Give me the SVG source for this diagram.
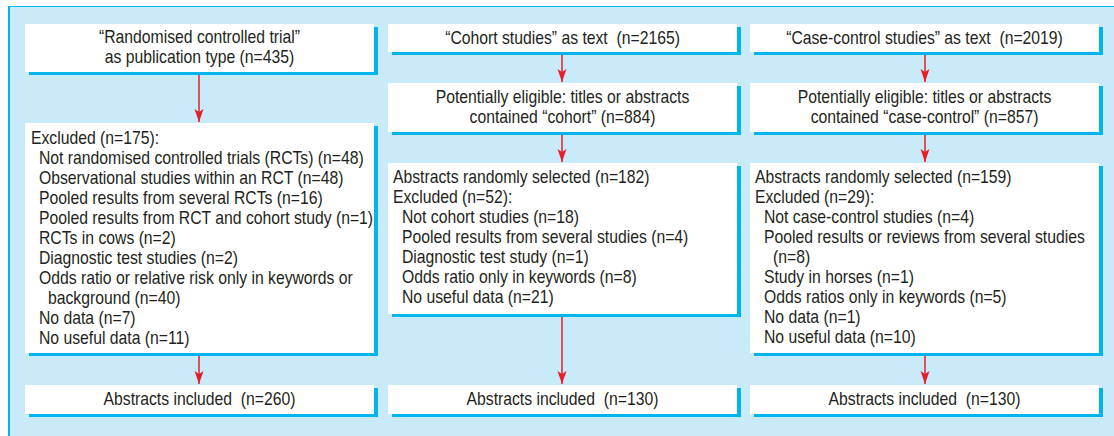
<svg xmlns="http://www.w3.org/2000/svg" width="1114" height="436" viewBox="0 0 1114 436">
<style>
text{font-family:"Liberation Sans",Arial,sans-serif;font-size:17.5px;fill:#231f20;white-space:pre}
.c{text-anchor:middle}
.box{fill:#ffffff}
.sh{fill:#00b5ec}
.arr{stroke:#e51f2a;stroke-width:1.5;fill:none;marker-end:url(#ah)}
</style>
<defs>
<marker id="ah" markerUnits="userSpaceOnUse" markerWidth="14" markerHeight="10" refX="13" refY="4.5" orient="auto" viewBox="0 0 14 9">
<path d="M0,0 L13,4.5 L0,9 L3,4.5 Z" fill="#e51f2a"/>
</marker>
</defs>
<rect x="0" y="0" width="1114" height="436" fill="#ffffff"/>
<rect x="8" y="6" width="1106" height="430" fill="#c8eaf9"/>
<line x1="8" y1="6.5" x2="1114" y2="6.5" stroke="#00b5ec" stroke-width="1"/>
<line x1="9" y1="6" x2="9" y2="436" stroke="#00b5ec" stroke-width="2"/>

<g id="connectors">
<line class="arr" x1="199" y1="72" x2="199" y2="122"/>
<line class="arr" x1="199" y1="353" x2="199" y2="384"/>
<line class="arr" x1="562" y1="52" x2="562" y2="82"/>
<line class="arr" x1="562" y1="132" x2="562" y2="162"/>
<line class="arr" x1="562" y1="314" x2="562" y2="384"/>
<line class="arr" x1="925" y1="52" x2="925" y2="82"/>
<line class="arr" x1="925" y1="132" x2="925" y2="162"/>
<line class="arr" x1="925" y1="353" x2="925" y2="384"/>
</g>

<g id="rct-source">
<rect class="sh" x="29" y="27" width="349" height="48"/>
<rect class="box" x="25" y="24" width="349" height="48"/>
<text class="c" transform="translate(199.5,43) scale(0.9,1)">“Randomised controlled trial”</text>
<text class="c" transform="translate(199.5,63) scale(0.9,1)">as publication type (n=435)</text>
</g>

<g id="rct-excluded">
<rect class="sh" x="29" y="126" width="349" height="230"/>
<rect class="box" x="25" y="123" width="349" height="230"/>
<text transform="translate(31,144) scale(0.9,1)">Excluded (n=175):</text>
<text transform="translate(39,164) scale(0.9,1)">Not randomised controlled trials (RCTs) (n=48)</text>
<text transform="translate(39,184) scale(0.9,1)">Observational studies within an RCT (n=48)</text>
<text transform="translate(39,204) scale(0.9,1)">Pooled results from several RCTs (n=16)</text>
<text transform="translate(39,224) scale(0.9,1)">Pooled results from RCT and cohort study (n=1)</text>
<text transform="translate(39,244) scale(0.9,1)">RCTs in cows (n=2)</text>
<text transform="translate(39,264) scale(0.9,1)">Diagnostic test studies (n=2)</text>
<text transform="translate(39,284) scale(0.9,1)">Odds ratio or relative risk only in keywords or</text>
<text transform="translate(48,304) scale(0.9,1)">background (n=40)</text>
<text transform="translate(39,324) scale(0.9,1)">No data (n=7)</text>
<text transform="translate(39,344) scale(0.9,1)">No useful data (n=11)</text>
</g>

<g id="rct-included">
<rect class="sh" x="29" y="388" width="349" height="29"/>
<rect class="box" x="25" y="385" width="349" height="29"/>
<text class="c" transform="translate(199.5,405) scale(0.9,1)">Abstracts included  (n=260)</text>
</g>

<g id="cohort-source">
<rect class="sh" x="392" y="27" width="349" height="28"/>
<rect class="box" x="388" y="24" width="349" height="28"/>
<text class="c" transform="translate(562.5,44) scale(0.9,1)">“Cohort studies” as text  (n=2165)</text>
</g>

<g id="cohort-eligible">
<rect class="sh" x="392" y="86" width="349" height="49"/>
<rect class="box" x="388" y="83" width="349" height="49"/>
<text class="c" transform="translate(562.5,103) scale(0.9,1)">Potentially eligible: titles or abstracts</text>
<text class="c" transform="translate(562.5,123) scale(0.9,1)">contained “cohort” (n=884)</text>
</g>

<g id="cohort-selected">
<rect class="sh" x="392" y="166" width="349" height="151"/>
<rect class="box" x="388" y="163" width="349" height="151"/>
<text transform="translate(393,183) scale(0.9,1)">Abstracts randomly selected (n=182)</text>
<text transform="translate(393,203) scale(0.9,1)">Excluded (n=52):</text>
<text transform="translate(402,223) scale(0.9,1)">Not cohort studies (n=18)</text>
<text transform="translate(402,243) scale(0.9,1)">Pooled results from several studies (n=4)</text>
<text transform="translate(402,263) scale(0.9,1)">Diagnostic test study (n=1)</text>
<text transform="translate(402,283) scale(0.9,1)">Odds ratio only in keywords (n=8)</text>
<text transform="translate(402,303) scale(0.9,1)">No useful data (n=21)</text>
</g>

<g id="cohort-included">
<rect class="sh" x="392" y="388" width="349" height="29"/>
<rect class="box" x="388" y="385" width="349" height="29"/>
<text class="c" transform="translate(562.5,405) scale(0.9,1)">Abstracts included  (n=130)</text>
</g>

<g id="cc-source">
<rect class="sh" x="754" y="27" width="349" height="28"/>
<rect class="box" x="750" y="24" width="349" height="28"/>
<text class="c" transform="translate(924.5,44) scale(0.9,1)">“Case-control studies” as text  (n=2019)</text>
</g>

<g id="cc-eligible">
<rect class="sh" x="754" y="86" width="349" height="49"/>
<rect class="box" x="750" y="83" width="349" height="49"/>
<text class="c" transform="translate(924.5,103) scale(0.9,1)">Potentially eligible: titles or abstracts</text>
<text class="c" transform="translate(924.5,123) scale(0.9,1)">contained “case-control” (n=857)</text>
</g>

<g id="cc-selected">
<rect class="sh" x="754" y="166" width="349" height="190"/>
<rect class="box" x="750" y="163" width="349" height="190"/>
<text transform="translate(755,183) scale(0.9,1)">Abstracts randomly selected (n=159)</text>
<text transform="translate(755,203) scale(0.9,1)">Excluded (n=29):</text>
<text transform="translate(764,223) scale(0.9,1)">Not case-control studies (n=4)</text>
<text transform="translate(764,243) scale(0.9,1)">Pooled results or reviews from several studies</text>
<text transform="translate(773,263) scale(0.9,1)">(n=8)</text>
<text transform="translate(764,283) scale(0.9,1)">Study in horses (n=1)</text>
<text transform="translate(764,303) scale(0.9,1)">Odds ratios only in keywords (n=5)</text>
<text transform="translate(764,323) scale(0.9,1)">No data (n=1)</text>
<text transform="translate(764,343) scale(0.9,1)">No useful data (n=10)</text>
</g>

<g id="cc-included">
<rect class="sh" x="754" y="388" width="349" height="29"/>
<rect class="box" x="750" y="385" width="349" height="29"/>
<text class="c" transform="translate(924.5,405) scale(0.9,1)">Abstracts included  (n=130)</text>
</g>
</svg>
